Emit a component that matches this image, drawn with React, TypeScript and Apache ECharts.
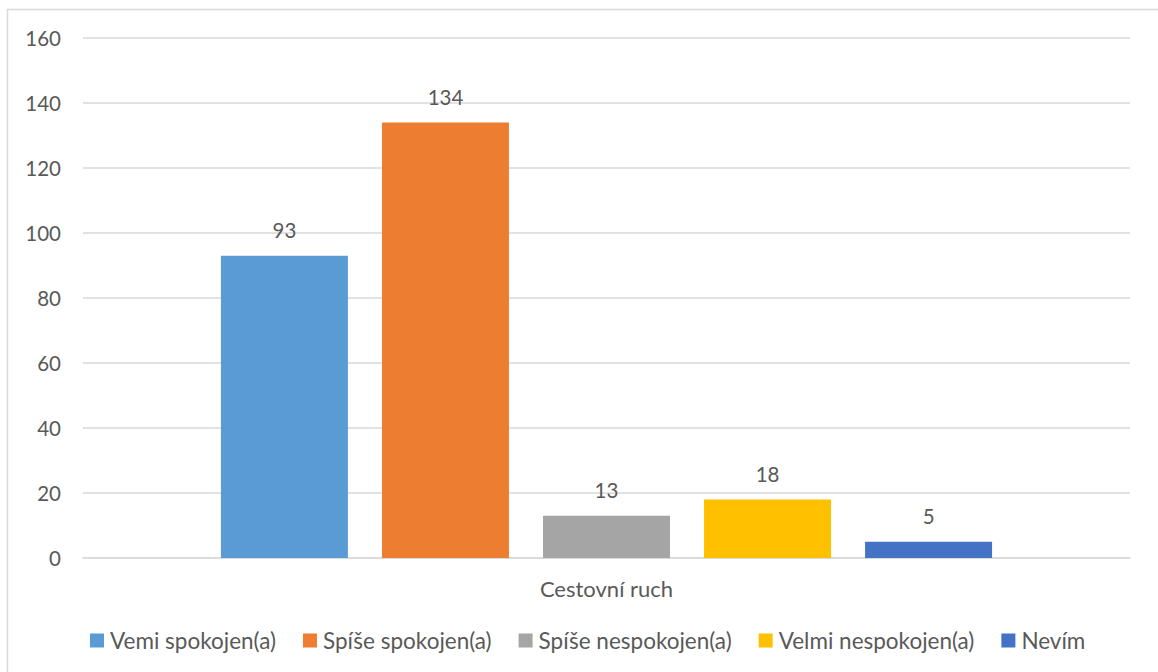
import React, { useEffect, useRef } from "react";
import * as echarts from "echarts";

const categories = ["Cestovní ruch"];
const seriesNames = [
  "Vemi spokojen(a)",
  "Spíše spokojen(a)",
  "Spíše nespokojen(a)",
  "Velmi nespokojen(a)",
  "Nevím",
];
const seriesValues = [[93], [134], [13], [18], [5]];
const colors = ["#5B9BD5", "#ED7D31", "#A5A5A5", "#FFC000", "#4472C4"];
const yTicks = { min: 0, max: 160, interval: 20 };

const FONT = "Lato";
const TXT = "#595959";

export default function App() {
  const ref = useRef<HTMLDivElement>(null);
  useEffect(() => {
    document.body.style.margin = "0";
    const chart = echarts.init(ref.current!, undefined, { renderer: "svg" });
    chart.setOption({
      animation: false,
      textStyle: { fontFamily: FONT, color: TXT },
      graphic: [
        {
          type: "rect",
          shape: { x: 7.5, y: 9.5, width: 1300, height: 800 },
          style: { fill: "none", stroke: "#d9d9d9", lineWidth: 1.5 },
          silent: true,
          z: -10,
        },
      ],
      grid: { left: 83, right: 28, top: 38, bottom: 114, containLabel: false },
      legend: {
        bottom: 15,
        left: 85,
        itemWidth: 14,
        itemHeight: 14,
        itemGap: 27,
        icon: "rect",
        textStyle: { fontFamily: FONT, fontSize: 22.5, color: TXT, padding: [0, 0, 0, 1] },
        data: seriesNames,
      },
      xAxis: {
        type: "category",
        data: categories,
        axisTick: { show: false },
        axisLine: { lineStyle: { color: "#d9d9d9", width: 1.5 } },
        axisLabel: { fontFamily: FONT, fontSize: 22, color: TXT, margin: 19 },
      },
      yAxis: {
        type: "value",
        min: yTicks.min,
        max: yTicks.max,
        interval: yTicks.interval,
        axisLine: { show: false },
        axisTick: { show: false },
        splitLine: { lineStyle: { color: "#d9d9d9", width: 1.5 } },
        axisLabel: { fontFamily: FONT, fontSize: 20.5, color: TXT, margin: 22 },
      },
      series: seriesNames.map((name, i) => ({
        name,
        type: "bar",
        data: seriesValues[i],
        barWidth: 127,
        barGap: "26.8%",
        itemStyle: { color: colors[i] },
        label: {
          show: true,
          position: "top",
          distance: 15,
          fontFamily: FONT,
          fontSize: 20.5,
          color: TXT,
        },
      })),
    });
    return () => chart.dispose();
  }, []);
  return (
    <div
      ref={ref}
      style={{ position: "fixed", left: 0, top: 0, width: 1158, height: 672, background: "#fff" }}
    />
  );
}
